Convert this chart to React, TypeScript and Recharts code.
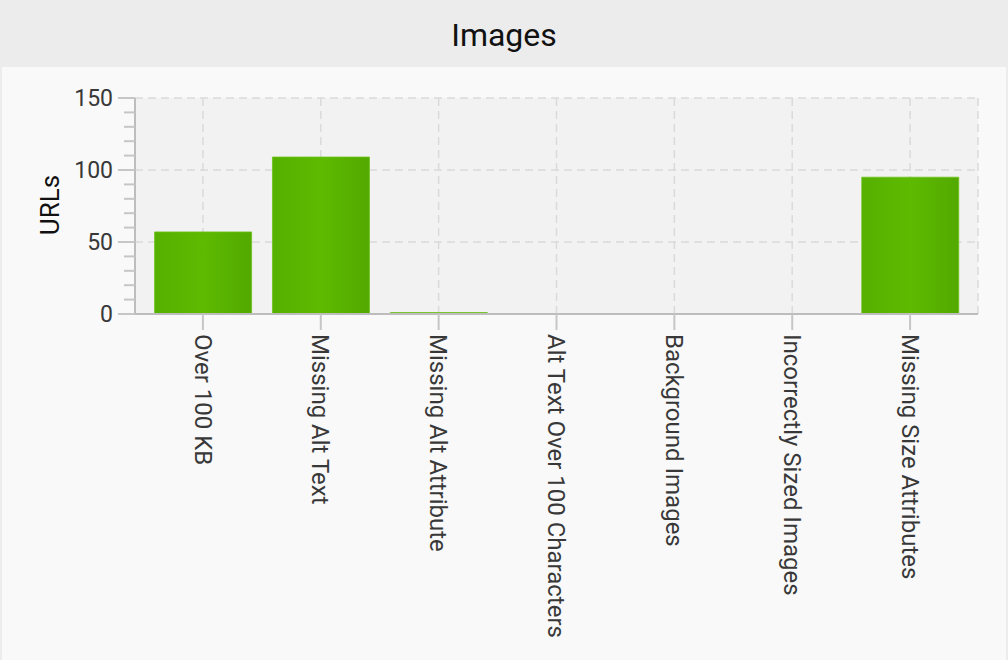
import React from 'react';
import { BarChart, Bar, XAxis, YAxis, CartesianGrid } from 'recharts';

const categories = [
  'Over 100 KB',
  'Missing Alt Text',
  'Missing Alt Attribute',
  'Alt Text Over 100 Characters',
  'Background Images',
  'Incorrectly Sized Images',
  'Missing Size Attributes',
];
const urlCounts = [57, 109, 1, 0, 0, 0, 95];
const yTickValues = [0, 10, 20, 30, 40, 50, 60, 70, 80, 90, 100, 110, 120, 130, 140, 150];
const gridValues = [0, 50, 100, 150];

const data = categories.map((name, i) => ({ name, urls: urlCounts[i] }));

const FONT = 'Roboto, "Noto Sans", sans-serif';

const YTick = (props: any) => {
  const { x, y, payload } = props;
  const major = payload.value % 50 === 0;
  return (
    <g>
      <line x1={x - (major ? 17 : 11)} x2={x} y1={y} y2={y} stroke="#c6c6c6" strokeWidth={2} />
      {major && (
        <text x={x - 22} y={y} dy="0.36em" textAnchor="end" fontSize={23} fill="#383838" fontFamily={FONT}>
          {payload.value}
        </text>
      )}
    </g>
  );
};

const XTick = (props: any) => {
  const { x, y, payload } = props;
  return (
    <text
      x={x}
      y={y + 4}
      transform={`rotate(90 ${x} ${y + 4})`}
      dy="0.35em"
      textAnchor="start"
      fontSize={24}
      fill="#383838"
      fontFamily={FONT}
    >
      {payload.value}
    </text>
  );
};

const App: React.FC = () => {
  return (
    <div style={{ position: 'fixed', left: 0, top: 0, width: 1008, height: 660, background: '#ececec', overflow: 'hidden' }}>
      <div
        style={{
          position: 'absolute', left: 0, top: 2, width: 1008, height: 67, lineHeight: '67px',
          textAlign: 'center', fontFamily: FONT, fontSize: 32, color: '#111',
        }}
      >
        Images
      </div>
      <div style={{ position: 'absolute', left: 2, top: 67, width: 1004, height: 593, background: '#f9f9f9' }} />
      <div
        style={{
          position: 'absolute', left: 50, top: 205, transform: 'translate(-50%, -50%) rotate(-90deg)',
          fontFamily: FONT, fontSize: 26, color: '#111', whiteSpace: 'nowrap',
        }}
      >
        URLs
      </div>
      <div style={{ position: 'absolute', left: 0, top: 0 }}>
        <BarChart
          width={1008}
          height={660}
          data={data}
          margin={{ top: 98, right: 30, bottom: 46, left: 75 }}
          barCategoryGap="9%"
        >
          <defs>
            <linearGradient id="barGreen" x1="0" y1="0" x2="1" y2="0">
              <stop offset="0%" stopColor="#56b000" />
              <stop offset="50%" stopColor="#5dba00" />
              <stop offset="100%" stopColor="#53a900" />
            </linearGradient>
          </defs>
          <CartesianGrid
            fill="#f2f2f2"
            fillOpacity={1}
            stroke="#dadada"
            strokeWidth={1.5}
            strokeDasharray="8 5"
            horizontalValues={gridValues}
          />
          <XAxis
            dataKey="name"
            interval={0}
            height={300}
            padding={{ left: 9, right: 9 }}
            tickSize={16}
            tickMargin={0}
            tickLine={{ stroke: '#c6c6c6', strokeWidth: 2 }}
            axisLine={{ stroke: '#bdbdbd', strokeWidth: 2 }}
            tick={<XTick />}
          />
          <YAxis
            width={60}
            domain={[0, 150]}
            ticks={yTickValues}
            interval={0}
            tickSize={0}
            tickMargin={0}
            tickLine={false}
            axisLine={{ stroke: '#bdbdbd', strokeWidth: 2 }}
            tick={<YTick />}
          />
          <Bar dataKey="urls" fill="url(#barGreen)" stroke="#6cc21c" strokeWidth={0.8} isAnimationActive={false} />
        </BarChart>
      </div>
    </div>
  );
};

export default App;
